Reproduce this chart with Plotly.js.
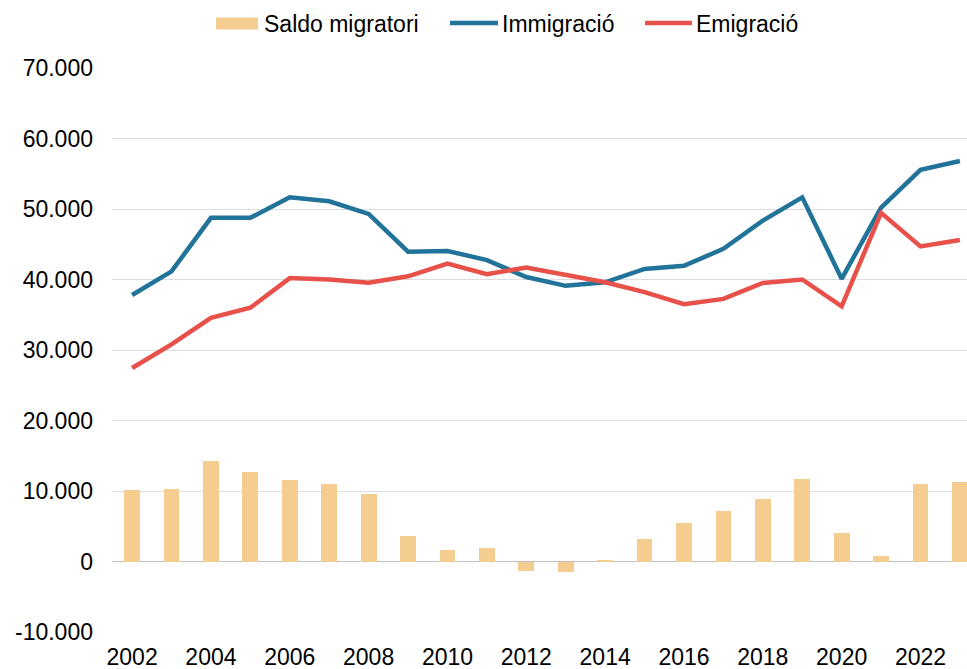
<!DOCTYPE html>
<html>
<head>
<meta charset="utf-8">
<script src="https://cdn.plot.ly/plotly-3.0.1.min.js"></script>
<style>html,body{margin:0;padding:0;background:#fff;}#chart{width:967px;height:669px;}</style>
</head>
<body>
<div id="chart"></div>
<script>
const years = [2002,2003,2004,2005,2006,2007,2008,2009,2010,2011,2012,2013,2014,2015,2016,2017,2018,2019,2020,2021,2022,2023];
const saldo = [10200,10350,14250,12750,11550,11000,9600,3550,1700,1900,-1300,-1450,280,3250,5500,7150,8850,11750,4000,850,11000,11250];
const immigracio = [37800,41150,48750,48750,51650,51100,49300,43950,44050,42750,40350,39100,39600,41500,41950,44350,48350,51650,40100,50200,55550,56800];
const emigracio = [27450,30800,34550,36000,40200,40000,39550,40450,42250,40750,41700,40700,39600,38200,36500,37250,39500,40000,36200,49450,44700,45600];
const seriesNames = ['Saldo migratori','Immigració','Emigració'];
const seriesColors = ['#F5CD90','#22739A','#E8504A'];
const yTickVals = [-10000,0,10000,20000,30000,40000,50000,60000,70000];
const yTickText = ["-10.000","0","10.000","20.000","30.000","40.000","50.000","60.000","70.000"];
const xTickVals = [2002,2004,2006,2008,2010,2012,2014,2016,2018,2020,2022];

const font = "Liberation Sans, Arial, sans-serif";
const M = {l:112, r:0, t:68, b:37};
const W = 967, H = 669;
const pw = W - M.l - M.r, ph = H - M.t - M.b;
const px = x => (x - M.l) / pw;
const py = y => (H - M.b - y) / ph;

const traces = [
  {type:'bar', name:seriesNames[0], x:years, y:saldo, width:0.4,
   marker:{color:seriesColors[0], line:{width:0}}},
  {type:'scatter', mode:'lines', name:seriesNames[1], x:years, y:immigracio,
   line:{color:seriesColors[1], width:4.5}},
  {type:'scatter', mode:'lines', name:seriesNames[2], x:years, y:emigracio,
   line:{color:seriesColors[2], width:4.5}}
];

// manual legend (wide swatches like the reference)
const legY = 23.5;
const swatches = [[216,258],[450,498],[645,692]];
const textX = [263,501,695];
const shapes = [];
const annotations = [];
swatches.forEach((s,i) => {
  if (i === 0) {
    shapes.push({type:'rect', xref:'paper', yref:'paper', x0:px(s[0]), x1:px(s[1]),
      y0:py(legY+6), y1:py(legY-6), fillcolor:seriesColors[i], line:{width:0}, layer:'above'});
  } else {
    shapes.push({type:'line', xref:'paper', yref:'paper', x0:px(s[0]), x1:px(s[1]),
      y0:py(legY-0.5), y1:py(legY-0.5), line:{color:seriesColors[i], width:4.5}, layer:'above'});
  }
  annotations.push({xref:'paper', yref:'paper', x:px(textX[i]), y:py(legY), xanchor:'left', yanchor:'middle',
    text:seriesNames[i], showarrow:false, borderpad:0, font:{family:font, size:23, color:'#000'}});
});

const layout = {
  width:W, height:H,
  margin:{l:M.l, r:M.r, t:M.t, b:M.b, pad:0},
  paper_bgcolor:'#fff', plot_bgcolor:'#fff',
  font:{family:font, size:23, color:'#000'},
  showlegend:false,
  shapes:shapes, annotations:annotations,
  xaxis:{range:[2001.49, 2023.18], tickvals:xTickVals, ticks:'', showgrid:false,
         zeroline:false, showline:false, tickfont:{family:font, size:23, color:'#000'},
         ticklabelstandoff:9},
  yaxis:{range:[-10000,70000], tickvals:yTickVals, ticktext:yTickText, ticks:'',
         showgrid:true, gridcolor:'#DDDDDD', gridwidth:1,
         zeroline:true, zerolinecolor:'#BFBFBF', zerolinewidth:1.5, showline:false,
         tickfont:{family:font, size:23, color:'#000'}, ticklabelstandoff:18},
  bargap:0
};
Plotly.newPlot('chart', traces, layout, {displayModeBar:false, staticPlot:true});
</script>
</body>
</html>
